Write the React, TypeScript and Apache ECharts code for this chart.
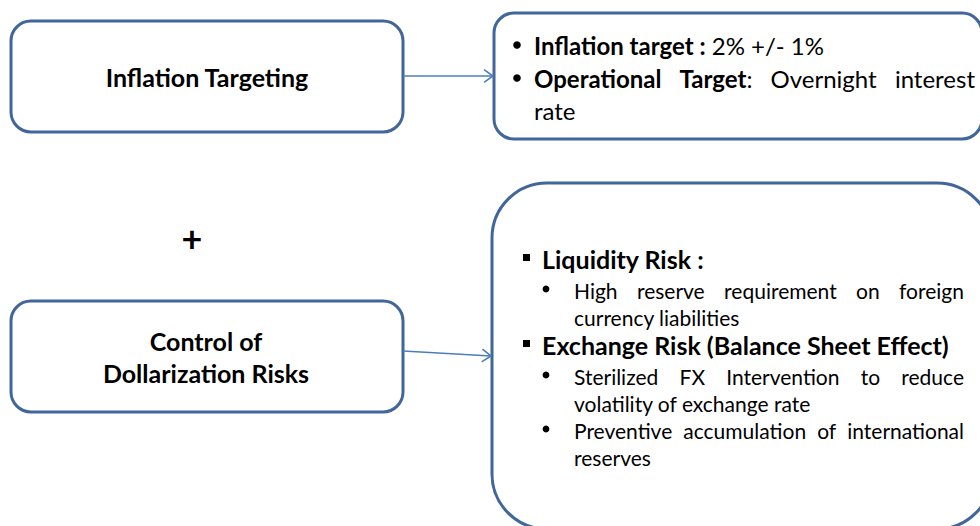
import React, { useEffect, useRef } from "react";
import * as echarts from "echarts";

type Seg = [string, boolean];

// ---- content ----
const mainBoxTitles: string[][] = [["Inflation Targeting"], ["Control of", "Dollarization Risks"]];
const plusSign = "+";
const targetLine1: Seg[] = [["Inflation target :", true], [" 2% +/- 1%", false]];
const targetLine2Words: Seg[][] = [
  [["Operational", true]],
  [["Target", true], [":", false]],
  [["Overnight", false]],
  [["interest", false]],
];
const targetLine3 = "rate";
const riskHeadings = ["Liquidity Risk :", "Exchange Risk (Balance Sheet Effect)"];
const riskMeasures: string[][][] = [
  [["High reserve requirement on foreign", "currency liabilities"]],
  [
    ["Sterilized FX Intervention to reduce", "volatility of exchange rate"],
    ["Preventive accumulation of international", "reserves"],
  ],
];

// ---- styles ----
const FONT = "Lato, 'Open Sans', sans-serif";
const BORDER = "#41669b";
const ARROW = "#4a7ebb";
const TEXT = "#000000";

let measureCtx: CanvasRenderingContext2D | null = null;
function measure(text: string, size: number, bold: boolean): number {
  if (!measureCtx) measureCtx = document.createElement("canvas").getContext("2d");
  if (!measureCtx) return text.length * size * 0.5;
  measureCtx.font = `${bold ? "bold " : ""}${size}px ${FONT}`;
  return measureCtx.measureText(text).width;
}

function richStyles(size: number) {
  return {
    b: { fontWeight: "bold", fontSize: size, fontFamily: FONT, fill: TEXT },
    n: { fontWeight: "normal", fontSize: size, fontFamily: FONT, fill: TEXT },
  } as any;
}

function segText(segs: Seg[]) {
  return segs.map(([t, b]) => `{${b ? "b" : "n"}|${t}}`).join("");
}

function justifyWords(words: Seg[][], x0: number, x1: number, y: number, size: number): any[] {
  const widths = words.map((w) => w.reduce((s, [t, b]) => s + measure(t, size, b), 0));
  const total = widths.reduce((a, b) => a + b, 0);
  const gap = words.length > 1 ? (x1 - x0 - total) / (words.length - 1) : 0;
  let x = x0;
  const out: any[] = [];
  words.forEach((w, i) => {
    out.push({
      type: "text",
      x,
      y,
      style: {
        text: segText(w),
        rich: richStyles(size),
        verticalAlign: "middle",
        align: "left",
      },
    });
    x += widths[i] + gap;
  });
  return out;
}

function plainText(text: string, x: number, y: number, size: number, bold: boolean, align = "left"): any {
  return {
    type: "text",
    x,
    y,
    style: {
      text,
      fontSize: size,
      fontWeight: bold ? "bold" : "normal",
      fontFamily: FONT,
      fill: TEXT,
      align,
      verticalAlign: "middle",
    },
  };
}

function arrow(x1: number, y1: number, x2: number, y2: number): any[] {
  const ang = Math.atan2(y2 - y1, x2 - x1);
  const len = 11;
  const spread = 0.62;
  const p1 = [x2 - len * Math.cos(ang - spread), y2 - len * Math.sin(ang - spread)];
  const p2 = [x2 - len * Math.cos(ang + spread), y2 - len * Math.sin(ang + spread)];
  return [
    { type: "line", shape: { x1, y1, x2, y2 }, style: { stroke: ARROW, lineWidth: 1.6 } },
    {
      type: "polyline",
      shape: { points: [p1, [x2, y2], p2] },
      style: { stroke: ARROW, lineWidth: 1.6, fill: null },
    },
  ];
}

function buildGraphics(): any[] {
  const g: any[] = [];
  const box = (x: number, y: number, w: number, h: number, r: number) => ({
    type: "rect",
    shape: { x, y, width: w, height: h, r },
    style: { fill: "#ffffff", stroke: BORDER, lineWidth: 3 },
  });

  // boxes
  g.push(box(11, 21, 392, 111, 20));
  g.push(box(11, 301, 392, 111, 20));
  g.push(box(494, 13, 488, 126, 20));
  g.push(box(492, 183, 500, 346, 55));

  // arrows
  g.push(...arrow(403, 76, 493, 76));
  g.push(...arrow(403, 351, 491, 356));

  // left titles
  g.push(plainText(mainBoxTitles[0][0], 207, 77, 25, true, "center"));
  g.push(plainText(mainBoxTitles[1][0], 206, 341, 25, true, "center"));
  g.push(plainText(mainBoxTitles[1][1], 206, 373, 25, true, "center"));

  // plus
  g.push(plainText(plusSign, 192, 238, 36, true, "center"));

  // top-right box content
  const tSize = 24;
  g.push({ type: "circle", shape: { cx: 517, cy: 45, r: 3.8 }, style: { fill: TEXT } });
  g.push({ type: "circle", shape: { cx: 517, cy: 78, r: 3.8 }, style: { fill: TEXT } });
  g.push({
    type: "text",
    x: 534,
    y: 45,
    style: { text: segText(targetLine1), rich: richStyles(tSize), verticalAlign: "middle" },
  });
  g.push(...justifyWords(targetLine2Words, 534, 975, 78, tSize));
  g.push(plainText(targetLine3, 534, 110, tSize, false));

  // big box content
  const hSize = 25;
  const bSize = 21;
  const headingY = [259, 345];
  const measureY = [
    [[290, 317]],
    [
      [376, 403],
      [430, 457],
    ],
  ];
  riskHeadings.forEach((h, i) => {
    g.push({ type: "rect", shape: { x: 523, y: headingY[i] - 5, width: 7, height: 7 }, style: { fill: TEXT } });
    g.push(plainText(h, 542, headingY[i], hSize, true));
    riskMeasures[i].forEach((lines, j) => {
      const ys = measureY[i][j];
      g.push({ type: "circle", shape: { cx: 546, cy: ys[0] - 1, r: 3.4 }, style: { fill: TEXT } });
      const words: Seg[][] = lines[0].split(" ").map((w) => [[w, false] as Seg]);
      g.push(...justifyWords(words, 574, 964, ys[0], bSize));
      g.push(plainText(lines[1], 574, ys[1], bSize, false));
    });
  });

  return g;
}

export default function App() {
  const ref = useRef<HTMLDivElement>(null);
  useEffect(() => {
    if (!ref.current) return;
    const chart = echarts.init(ref.current, undefined, { renderer: "svg", width: 980, height: 526 });
    chart.setOption({
      animation: false,
      backgroundColor: "#ffffff",
      graphic: { elements: buildGraphics() },
    });
    return () => chart.dispose();
  }, []);
  return (
    <div
      ref={ref}
      style={{ position: "fixed", left: 0, top: 0, width: 980, height: 526, background: "#fff" }}
    />
  );
}
